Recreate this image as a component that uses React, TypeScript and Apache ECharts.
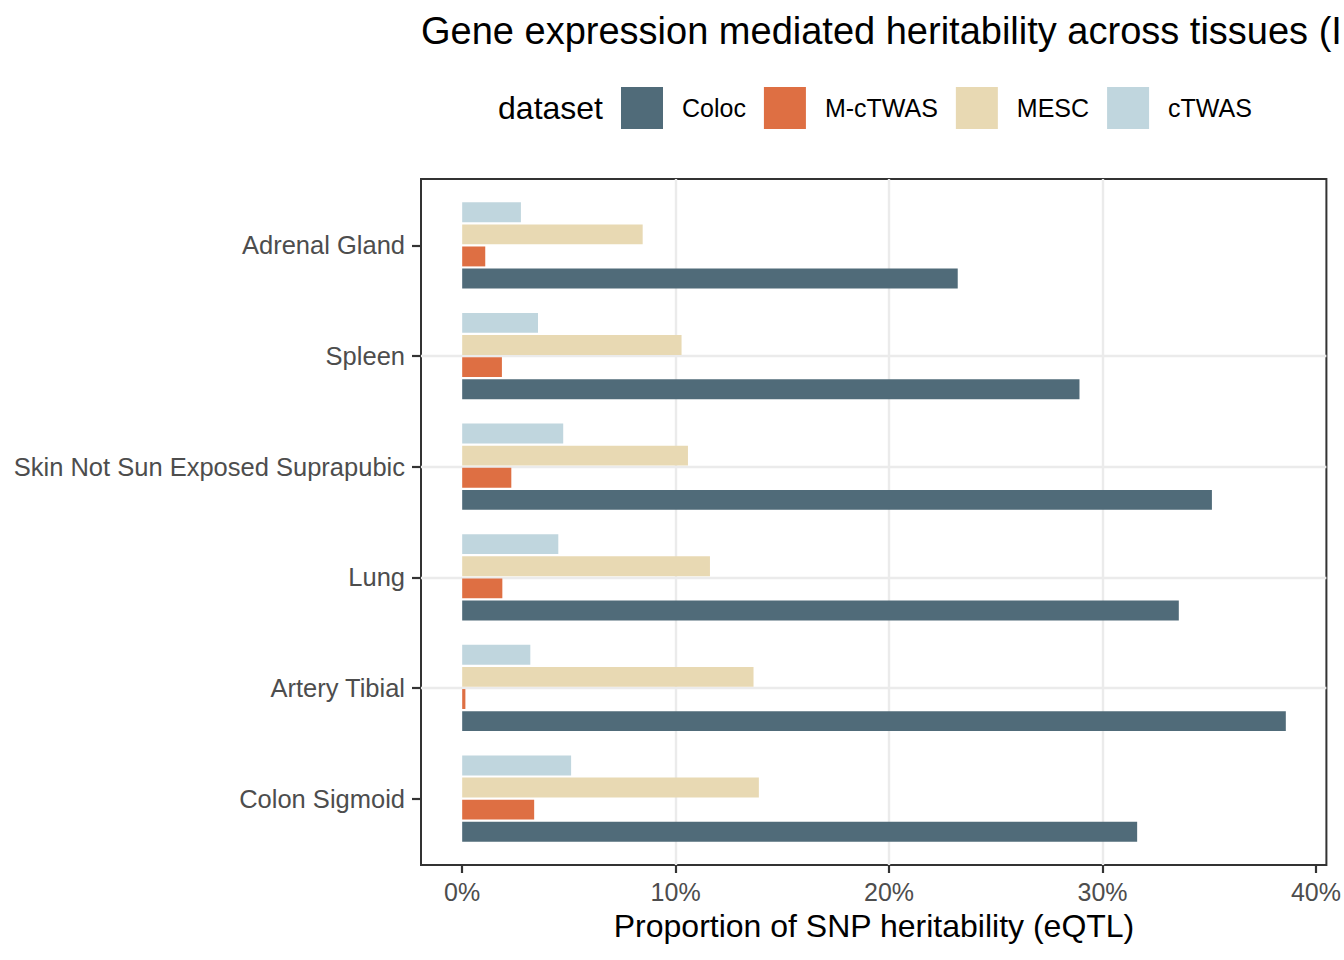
import React, { useEffect, useRef } from 'react';
import * as echarts from 'echarts';

// ---- data ----
const categories = [
  'Adrenal Gland',
  'Spleen',
  'Skin Not Sun Exposed Suprapubic',
  'Lung',
  'Artery Tibial',
  'Colon Sigmoid',
];
const colocValues = [23.2, 28.9, 35.1, 33.55, 38.56, 31.6];
const mctwasValues = [1.08, 1.86, 2.3, 1.88, 0.15, 3.37];
const mescValues = [8.45, 10.27, 10.57, 11.6, 13.64, 13.89];
const ctwasValues = [2.75, 3.55, 4.73, 4.5, 3.19, 5.1];
const xTickValues = [0, 10, 20, 30, 40];
const legendNames = ['Coloc', 'M-cTWAS', 'MESC', 'cTWAS'];

const colorMap: Record<string, string> = {
  Coloc: '#506B79',
  'M-cTWAS': '#DE6F43',
  MESC: '#E8D9B3',
  cTWAS: '#C0D6DE',
};

const FONT = '"Liberation Sans", Arial, Helvetica, sans-serif';

export default function App() {
  const ref = useRef<HTMLDivElement>(null);

  useEffect(() => {
    if (!ref.current) return;
    const chart = echarts.init(ref.current, undefined, { renderer: 'svg' });

    const W = 1344;
    const H = 960;
    const panelLeft = 421;
    const panelRight = 1327;
    const panelTop = 179;
    const panelBottom = 865;

    const nCat = categories.length;
    const unit = (panelBottom - panelTop) / (nCat + 0.2);
    const gbTop = panelTop + 0.1 * unit;
    const gbHeight = nCat * unit;
    const barWidth = 0.18 * unit;

    const allValues = [...colocValues, ...mctwasValues, ...mescValues, ...ctwasValues];
    const dataMax = Math.max(...allValues);
    const pad = 0.05 * dataMax;
    const xMin = -pad;
    const xMax = dataMax + pad;

    const catPositions = categories.map((_, i) => i + 1);

    const seriesOrder = [
      { name: 'cTWAS', data: ctwasValues },
      { name: 'MESC', data: mescValues },
      { name: 'M-cTWAS', data: mctwasValues },
      { name: 'Coloc', data: colocValues },
    ];

    const gridLine = { color: '#EBEBEB', width: 2.4 };
    const tickLine = { color: '#333333', width: 2.2 };

    const option: any = {
      animation: false,
      backgroundColor: '#FFFFFF',
      textStyle: { fontFamily: FONT },
      grid: [
        {
          left: panelLeft,
          right: W - panelRight,
          top: panelTop,
          bottom: H - panelBottom,
          show: true,
          borderColor: '#333333',
          borderWidth: 2,
          backgroundColor: 'transparent',
        },
        {
          left: panelLeft,
          right: W - panelRight,
          top: gbTop,
          height: gbHeight,
        },
      ],
      xAxis: [
        {
          gridIndex: 0,
          type: 'value',
          min: xMin,
          max: xMax,
          axisLine: { show: false, onZero: false },
          axisTick: { show: true, length: 8, customValues: xTickValues, lineStyle: tickLine },
          axisLabel: {
            customValues: xTickValues,
            formatter: '{value}%',
            fontSize: 25,
            color: '#4D4D4D',
            margin: 14,
            fontFamily: FONT,
          },
          splitLine: { show: true, showMinLine: false, showMaxLine: false, lineStyle: gridLine },
        },
        {
          gridIndex: 1,
          type: 'value',
          min: xMin,
          max: xMax,
          show: false,
          axisLine: { onZero: false },
          splitLine: { show: false },
        },
      ],
      yAxis: [
        {
          gridIndex: 0,
          type: 'value',
          min: 0.4,
          max: nCat + 0.6,
          inverse: true,
          axisLine: { show: false, onZero: false },
          axisTick: { show: false, customValues: catPositions },
          axisLabel: { show: false, customValues: catPositions },
          splitLine: { show: true, showMinLine: false, showMaxLine: false, lineStyle: gridLine },
        },
        {
          gridIndex: 1,
          type: 'category',
          data: categories,
          inverse: true,
          position: 'left',
          axisLine: { show: false, onZero: false },
          axisTick: { show: true, alignWithLabel: true, length: 9, lineStyle: tickLine },
          axisLabel: { fontSize: 25.5, color: '#4D4D4D', margin: 16, fontFamily: FONT },
          splitLine: { show: false },
        },
      ],
      legend: {
        data: legendNames,
        left: 621,
        top: 87,
        padding: 0,
        orient: 'horizontal',
        itemWidth: 42,
        itemHeight: 42,
        itemGap: 18,
        icon: 'rect',
        selectedMode: false,
        textStyle: { fontSize: 25, color: '#000000', padding: [0, 0, 0, 14], fontFamily: FONT },
      },
      graphic: [
        {
          type: 'text',
          x: panelLeft,
          y: 31,
          style: {
            text: 'Gene expression mediated heritability across tissues (I',
            fontSize: 38,
            fontFamily: FONT,
            fill: '#000000',
            align: 'left',
            verticalAlign: 'middle',
          },
        },
        {
          type: 'text',
          x: 603,
          y: 108,
          style: {
            text: 'dataset',
            fontSize: 32,
            fontFamily: FONT,
            fill: '#000000',
            align: 'right',
            verticalAlign: 'middle',
          },
        },
        {
          type: 'text',
          x: (panelLeft + panelRight) / 2,
          y: 926,
          style: {
            text: 'Proportion of SNP heritability (eQTL)',
            fontSize: 32,
            fontFamily: FONT,
            fill: '#000000',
            align: 'center',
            verticalAlign: 'middle',
          },
        },
      ],
      series: seriesOrder.map((s) => ({
        type: 'bar',
        name: s.name,
        xAxisIndex: 1,
        yAxisIndex: 1,
        data: s.data,
        barWidth: barWidth,
        barGap: '11%',
        silent: true,
        itemStyle: { color: colorMap[s.name] },
      })),
    };

    chart.setOption(option);
    return () => {
      chart.dispose();
    };
  }, []);

  return (
    <div
      ref={ref}
      style={{ position: 'absolute', left: 0, top: 0, width: 1344, height: 960, background: '#fff' }}
    />
  );
}
